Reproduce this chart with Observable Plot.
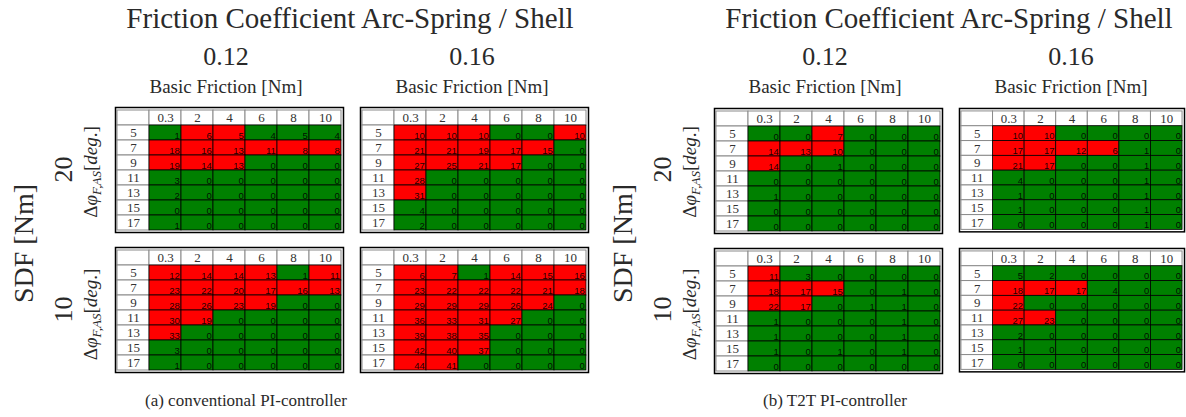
<!DOCTYPE html>
<html><head><meta charset="utf-8">
<script src="https://cdn.jsdelivr.net/npm/d3@7"></script>
<script src="https://cdn.jsdelivr.net/npm/@observablehq/plot@0.6"></script>
<style>
html,body{margin:0;padding:0;background:#fff;overflow:hidden}
#root{position:relative;width:1186px;height:417px;overflow:hidden}
#root svg.overlay{position:absolute;left:0;top:0}
.tbl{position:absolute}
</style></head><body><div id="root"></div>
<script>
// ---------- data ----------
const basicFriction = ["0.3","2","4","6","8","10"];
const angles = ["5","7","9","11","13","15","17"];
const coefficients = ["0.12","0.16"];
const sdfLevels = ["20","10"];
const controllers = ["(a) conventional PI-controller","(b) T2T PI-controller"];
const mainTitle = "Friction Coefficient Arc-Spring / Shell";
const colTitle = "Basic Friction [Nm]";
const rowTitle = "SDF [Nm]";

// (a) conventional PI-controller
const convMu012Sdf20 = [[1,6,5,4,5,4],[18,16,13,11,8,8],[19,14,13,0,0,0],[3,0,0,0,0,0],[2,0,0,0,0,0],[0,0,0,0,0,0],[1,0,0,0,0,0]];
const convMu012Sdf20Red = ["011000","111111","111000","000000","000000","000000","000000"];
const convMu016Sdf20 = [[10,10,10,0,0,10],[21,21,19,17,15,0],[27,25,21,17,0,0],[28,0,0,0,0,0],[31,0,0,0,0,0],[4,0,0,0,0,0],[2,0,0,0,0,0]];
const convMu016Sdf20Red = ["111001","111110","111100","100000","100000","000000","000000"];
const convMu012Sdf10 = [[12,14,14,13,1,11],[23,22,20,17,16,13],[28,26,23,19,0,0],[30,19,0,0,0,0],[33,0,0,0,0,0],[3,0,0,0,0,0],[1,0,0,0,0,0]];
const convMu012Sdf10Red = ["111101","111111","111100","110000","100000","000000","000000"];
const convMu016Sdf10 = [[6,7,1,14,15,16],[23,22,22,22,21,18],[29,29,29,26,24,0],[36,33,31,27,0,0],[39,38,35,0,0,0],[42,40,37,0,0,0],[44,41,0,0,0,0]];
const convMu016Sdf10Red = ["110111","111111","111110","111100","111000","111000","110000"];

// (b) T2T PI-controller
const t2tMu012Sdf20 = [[0,0,7,0,0,0],[14,13,10,0,0,0],[14,0,1,0,0,0],[0,0,0,0,0,0],[1,0,0,0,0,0],[0,0,0,0,0,0],[0,0,0,0,0,0]];
const t2tMu012Sdf20Red = ["001000","111000","100000","000000","000000","000000","000000"];
const t2tMu016Sdf20 = [[10,10,0,0,0,0],[17,17,12,6,1,0],[21,17,0,0,1,0],[4,0,0,0,1,0],[1,0,0,0,1,0],[1,0,0,0,1,0],[0,0,0,0,1,0]];
const t2tMu016Sdf20Red = ["110000","111100","110000","000000","000000","000000","000000"];
const t2tMu012Sdf10 = [[11,3,0,0,0,0],[18,17,15,0,1,0],[22,17,0,1,1,0],[1,0,0,0,1,0],[1,0,0,0,1,0],[1,0,1,0,1,0],[0,0,0,0,0,0]];
const t2tMu012Sdf10Red = ["100000","111000","110000","000000","000000","000000","000000"];
const t2tMu016Sdf10 = [[5,2,0,0,0,0],[18,17,17,4,0,0],[22,0,0,0,0,0],[27,23,0,0,0,0],[2,0,0,0,0,0],[1,0,0,0,0,0],[0,0,0,0,0,0]];
const t2tMu016Sdf10Red = ["000000","111000","100000","110000","000000","000000","000000"];

const tables = [
  {panel:0, coef:0, sdf:0, values:convMu012Sdf20, red:convMu012Sdf20Red},
  {panel:0, coef:1, sdf:0, values:convMu016Sdf20, red:convMu016Sdf20Red},
  {panel:0, coef:0, sdf:1, values:convMu012Sdf10, red:convMu012Sdf10Red},
  {panel:0, coef:1, sdf:1, values:convMu016Sdf10, red:convMu016Sdf10Red},
  {panel:1, coef:0, sdf:0, values:t2tMu012Sdf20, red:t2tMu012Sdf20Red},
  {panel:1, coef:1, sdf:0, values:t2tMu016Sdf20, red:t2tMu016Sdf20Red},
  {panel:1, coef:0, sdf:1, values:t2tMu012Sdf10, red:t2tMu012Sdf10Red},
  {panel:1, coef:1, sdf:1, values:t2tMu016Sdf10, red:t2tMu016Sdf10Red}
];

// ---------- layout ----------
const W = 228, H = 125, M = 2;
const panelX = [0, 599];
const tableX = [115, 360];
const tableY = [107, 247];
const SERIF = "'Liberation Serif', 'Times New Roman', Times, Tinos, 'Noto Serif', 'DejaVu Serif', FreeSerif, Georgia, serif";
const SANS = "'Liberation Sans', Arial, sans-serif";
const root = document.getElementById("root");

function makeTable(values, red) {
  const cells = [];
  angles.forEach((a, i) => basicFriction.forEach((b, j) =>
    cells.push({a, b, v: values[i][j], red: red[i][j] === "1"})));
  const bw = W / 7, bh = H / 8;
  return Plot.plot({
    width: W + 2*M, height: H + 2*M, margin: M,
    x: {domain: ["lbl", ...basicFriction], padding: 0, axis: null},
    y: {domain: ["hdr", ...angles], padding: 0, axis: null},
    color: {type: "identity"},
    style: {background: "transparent", overflow: "visible"},
    marks: [
      Plot.cell(["corner"], {x: () => "lbl", y: () => "hdr", fill: "white", stroke: "#8a8a8a", strokeWidth: 1}),
      Plot.cell(basicFriction, {x: d => d, y: () => "hdr", fill: "white", stroke: "#8a8a8a", strokeWidth: 1}),
      Plot.cell(angles, {x: () => "lbl", y: d => d, fill: "white", stroke: "#8a8a8a", strokeWidth: 1}),
      Plot.cell(cells, {x: "b", y: "a", fill: d => d.red ? "#ff0000" : "#008000", stroke: "#000", strokeWidth: 0.8}),
      Plot.text(basicFriction, {x: d => d, y: () => "hdr", text: d => d, fontFamily: SERIF, fontSize: 13, fill: "#333"}),
      Plot.text(angles, {x: () => "lbl", y: d => d, text: d => d, fontFamily: SERIF, fontSize: 13, fill: "#333"}),
      Plot.text(cells, {x: "b", y: "a", text: d => String(d.v), textAnchor: "end", lineAnchor: "bottom",
        dx: bw/2 - 2, dy: bh/2 - 2, fontFamily: SANS, fontSize: 9.5, fill: "#000", fillOpacity: 0.9}),
      Plot.frame({stroke: "#000", strokeWidth: 1.5})
    ]
  });
}

tables.forEach(t => {
  const div = document.createElement("div");
  div.className = "tbl";
  div.style.left = (panelX[t.panel] + tableX[t.coef] - M) + "px";
  div.style.top = (tableY[t.sdf] + t.panel - M) + "px";
  div.appendChild(makeTable(t.values, t.red));
  root.appendChild(div);
});

// ---------- text annotations ----------
const svg = d3.create("svg").attr("class", "overlay").attr("width", 1186).attr("height", 417)
  .attr("font-family", SERIF).attr("fill", "#2a2a2a");
const captionX = [246, 835];
const coefX = [226, 472];
const sdfY = [169.5, 309.5];
const deltaY = [172, 314.5];

[0, 1].forEach(p => {
  const ox = panelX[p];
  svg.append("text").attr("x", 350 + ox).attr("y", 28).attr("text-anchor", "middle")
    .attr("font-size", 29).text(mainTitle);
  coefficients.forEach((c, i) => {
    svg.append("text").attr("x", coefX[i] + ox).attr("y", 65).attr("text-anchor", "middle")
      .attr("font-size", 26).text(c);
    svg.append("text").attr("x", coefX[i] + ox).attr("y", 93).attr("text-anchor", "middle")
      .attr("font-size", 19).text(colTitle);
  });
  svg.append("text").attr("transform", `translate(${33 + ox},243.5) rotate(-90)`).attr("text-anchor", "middle")
    .attr("font-size", 28).text(rowTitle);
  sdfLevels.forEach((s, i) => {
    svg.append("text").attr("transform", `translate(${72 + ox},${sdfY[i]}) rotate(-90)`).attr("text-anchor", "middle")
      .attr("font-size", 26).text(s);
    const t = svg.append("text").attr("transform", `translate(${97 + ox},${deltaY[i]}) rotate(-90)`)
      .attr("text-anchor", "middle").attr("font-size", 19);
    t.append("tspan").text("Δ");
    t.append("tspan").attr("font-style", "italic").text("φ");
    t.append("tspan").attr("dy", 4).attr("font-size", 13).attr("font-style", "italic").text("F,AS");
    t.append("tspan").attr("dy", -4).text("[");
    t.append("tspan").attr("font-style", "italic").text("deg");
    t.append("tspan").text(".]");
  });
  svg.append("text").attr("x", captionX[p]).attr("y", 406).attr("text-anchor", "middle")
    .attr("font-size", 17).text(controllers[p]);
});
root.insertBefore(svg.node(), root.firstChild);
</script>
</body></html>
